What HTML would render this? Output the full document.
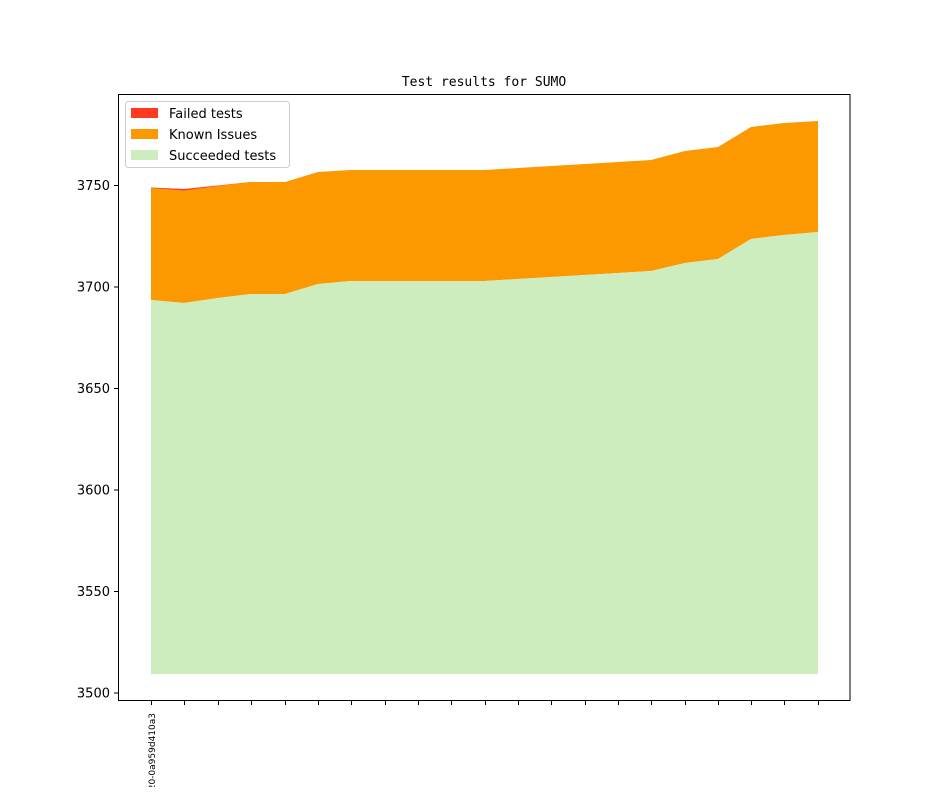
<!DOCTYPE html>
<html><head><style>body{margin:0;background:#fff}</style></head><body>
<svg width="944" height="787" xmlns="http://www.w3.org/2000/svg" font-family="DejaVu Sans, Liberation Sans, sans-serif">
<rect width="944" height="787" fill="#fff"/>
<text x="484" y="86" text-anchor="middle" font-family="DejaVu Sans Mono, Liberation Mono, monospace" font-size="13">Test results for SUMO</text>
<polygon fill="#ff3a1f" points="151,187.5 184,189 218,185.5 251,182 251,183 218,186.5 184,191 151,188.5"/>
<polygon fill="#fd9900" points="151,188 184,190.5 218,186 251,182 285,182 318,172 351,170 385,170 418,170 451,170 485,170 518,168 551,166 585,164 618,162 651,160 685,151 718,147 751,127 784,123 818,121 818,232 784,235 751,239 718,259 685,263 651,271 618,273 585,275 551,277 518,279 485,281 451,281 418,281 385,281 351,281 318,284 285,294 251,294 218,298 184,303 151,300"/>
<polygon fill="#ceedbe" points="151,300 184,303 218,298 251,294 285,294 318,284 351,281 385,281 418,281 451,281 485,281 518,279 551,277 585,275 618,273 651,271 685,263 718,259 751,239 784,235 818,232 818,674 151,674"/>
<rect x="118.5" y="94.5" width="731.5" height="606" fill="none" stroke="#000" stroke-width="1"/>
<g stroke="#000" stroke-width="1">
<line x1="114" y1="185.5" x2="118" y2="185.5"/><line x1="114" y1="287" x2="118" y2="287"/><line x1="114" y1="388.5" x2="118" y2="388.5"/><line x1="114" y1="490" x2="118" y2="490"/><line x1="114" y1="591.5" x2="118" y2="591.5"/><line x1="114" y1="693" x2="118" y2="693"/>
</g>
<g font-size="13" text-anchor="end">
<text x="110" y="190">3750</text><text x="110" y="291.5">3700</text><text x="110" y="393">3650</text><text x="110" y="494.5">3600</text><text x="110" y="596">3550</text><text x="110" y="697.5">3500</text>
</g>
<g stroke="#000" stroke-width="1" id="xt">
<line x1="151.5" y1="701" x2="151.5" y2="705"/><line x1="184.5" y1="701" x2="184.5" y2="705"/><line x1="218.5" y1="701" x2="218.5" y2="705"/><line x1="251.5" y1="701" x2="251.5" y2="705"/><line x1="285.5" y1="701" x2="285.5" y2="705"/><line x1="318.5" y1="701" x2="318.5" y2="705"/><line x1="351.5" y1="701" x2="351.5" y2="705"/><line x1="385.5" y1="701" x2="385.5" y2="705"/><line x1="418.5" y1="701" x2="418.5" y2="705"/><line x1="451.5" y1="701" x2="451.5" y2="705"/><line x1="485.5" y1="701" x2="485.5" y2="705"/><line x1="518.5" y1="701" x2="518.5" y2="705"/><line x1="551.5" y1="701" x2="551.5" y2="705"/><line x1="585.5" y1="701" x2="585.5" y2="705"/><line x1="618.5" y1="701" x2="618.5" y2="705"/><line x1="651.5" y1="701" x2="651.5" y2="705"/><line x1="685.5" y1="701" x2="685.5" y2="705"/><line x1="718.5" y1="701" x2="718.5" y2="705"/><line x1="751.5" y1="701" x2="751.5" y2="705"/><line x1="784.5" y1="701" x2="784.5" y2="705"/><line x1="818.5" y1="701" x2="818.5" y2="705"/>
</g>
<text transform="translate(155,713) rotate(-90)" font-size="9" text-anchor="end">2020-0a959d410a3</text>
<rect x="125.5" y="101.5" width="164" height="66" rx="3" fill="#fff" fill-opacity="0.8" stroke="#ccc"/>
<rect x="131" y="108" width="27" height="10" fill="#ff3a1f"/>
<rect x="131" y="129" width="27" height="10" fill="#fd9900"/>
<rect x="131" y="150" width="27" height="10" fill="#ceedbe"/>
<g font-size="13"><text x="169" y="118">Failed tests</text><text x="169" y="139">Known Issues</text><text x="169" y="160">Succeeded tests</text></g>
</svg>
</body></html>
